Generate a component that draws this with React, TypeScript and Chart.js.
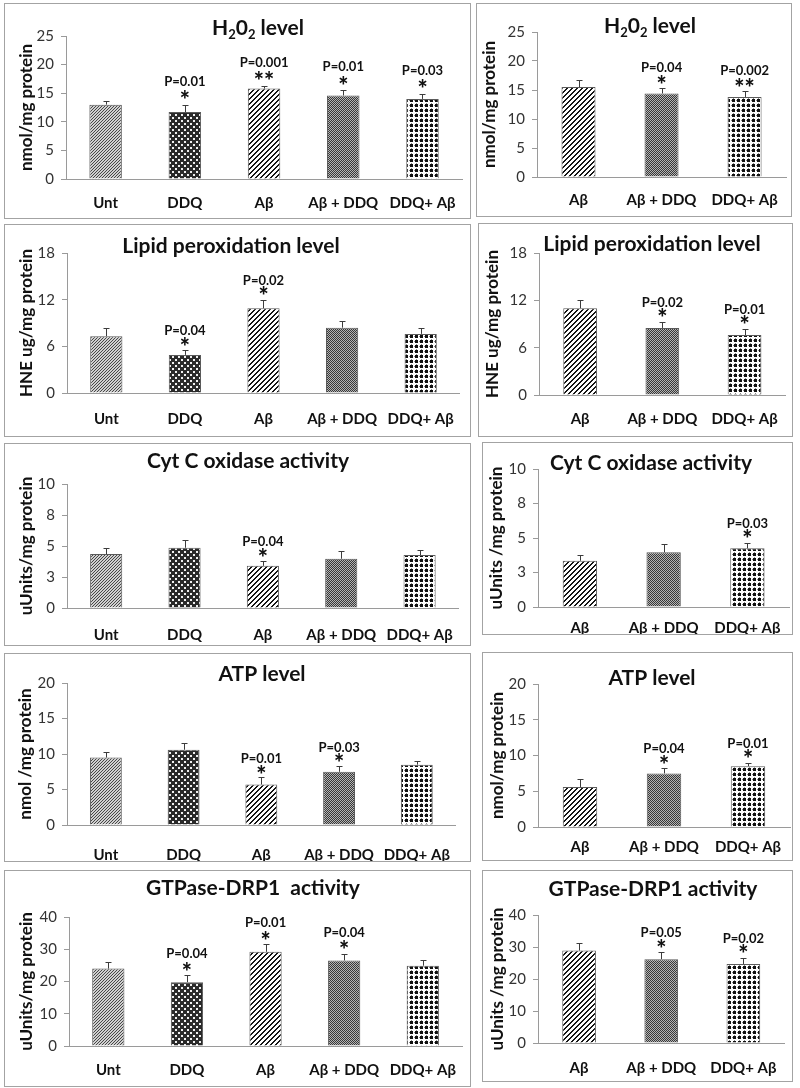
import React, { useEffect, useRef } from 'react';
import { Chart, registerables } from 'chart.js';

Chart.register(...registerables);

const FONT = 'Lato, "Open Sans", "Noto Sans", sans-serif';

// ---------- categories ----------
const LEFT_GROUPS = ['Unt', 'DDQ', 'Aβ', 'Aβ + DDQ', 'DDQ+ Aβ'];
const RIGHT_GROUPS = ['Aβ', 'Aβ + DDQ', 'DDQ+ Aβ'];
const LEFT_FILLS = ['unt', 'ddq', 'ab', 'abddq', 'ddqab'];
const RIGHT_FILLS = ['ab', 'abddq', 'ddqab'];

// ---------- H2O2 ----------
const h2o2Ticks = ['0', '5', '10', '15', '20', '25'];
const h2o2Max = 25;
const h2o2Step = 5;
const h2o2LeftValues = [13.0, 11.7, 15.8, 14.6, 14.0];
const h2o2LeftErrors = [0.6, 1.3, 0.5, 0.9, 0.9];
const h2o2LeftP = ['', 'P=0.01', 'P=0.001', 'P=0.01', 'P=0.03'];
const h2o2LeftStars = ['', '*', '**', '*', '*'];
const h2o2RightValues = [15.5, 14.4, 13.8];
const h2o2RightErrors = [1.3, 0.9, 1.0];
const h2o2RightP = ['', 'P=0.04', 'P=0.002'];
const h2o2RightStars = ['', '*', '**'];

// ---------- Lipid peroxidation ----------
const lipidTicks = ['0', '6', '12', '18'];
const lipidMax = 18;
const lipidStep = 6;
const lipidLeftValues = [7.3, 4.9, 10.9, 8.4, 7.6];
const lipidLeftErrors = [1.1, 0.6, 1.1, 0.8, 0.7];
const lipidLeftP = ['', 'P=0.04', 'P=0.02', '', ''];
const lipidLeftStars = ['', '*', '*', '', ''];
const lipidRightValues = [11.0, 8.5, 7.6];
const lipidRightErrors = [1.1, 0.8, 0.8];
const lipidRightP = ['', 'P=0.02', 'P=0.01'];
const lipidRightStars = ['', '*', '*'];

// ---------- Cyt C oxidase ----------
const cytTicks = ['0', '3', '5', '8', '10'];
const cytMax = 10;
const cytStep = 2.5;
const cytLeftValues = [4.35, 4.86, 3.4, 3.97, 4.27];
const cytLeftErrors = [0.5, 0.6, 0.38, 0.6, 0.38];
const cytLeftP = ['', '', 'P=0.04', '', ''];
const cytLeftStars = ['', '', '*', '', ''];
const cytRightValues = [3.35, 3.96, 4.25];
const cytRightErrors = [0.41, 0.6, 0.41];
const cytRightP = ['', '', 'P=0.03'];
const cytRightStars = ['', '', '*'];

// ---------- ATP ----------
const atpTicks = ['0', '5', '10', '15', '20'];
const atpMax = 20;
const atpStep = 5;
const atpLeftValues = [9.5, 10.6, 5.7, 7.5, 8.5];
const atpLeftErrors = [0.75, 1.0, 1.0, 0.85, 0.45];
const atpLeftP = ['', '', 'P=0.01', 'P=0.03', ''];
const atpLeftStars = ['', '', '*', '*', ''];
const atpRightValues = [5.6, 7.5, 8.5];
const atpRightErrors = [1.15, 0.75, 0.5];
const atpRightP = ['', 'P=0.04', 'P=0.01'];
const atpRightStars = ['', '*', '*'];

// ---------- GTPase-DRP1 ----------
const gtpTicks = ['0', '10', '20', '30', '40'];
const gtpMax = 40;
const gtpStep = 10;
const gtpLeftValues = [24.0, 19.8, 29.2, 26.5, 24.9];
const gtpLeftErrors = [2.2, 2.2, 2.3, 2.1, 1.8];
const gtpLeftP = ['', 'P=0.04', 'P=0.01', 'P=0.04', ''];
const gtpLeftStars = ['', '*', '*', '*', ''];
const gtpRightValues = [28.9, 26.2, 24.7];
const gtpRightErrors = [2.3, 2.2, 2.0];
const gtpRightP = ['', 'P=0.05', 'P=0.02'];
const gtpRightStars = ['', '*', '*'];

// ---------- panels (layout/styling) ----------
type PanelCfg = {
  title: string;
  yTitle: string;
  groups: string[];
  fills: string[];
  values: number[];
  errors: number[];
  pLabels: string[];
  stars: string[];
  ticks: string[];
  max: number;
  step: number;
  box: { x: number; y: number; w: number; h: number };
  plot: { x0: number; x1: number; top: number; zero: number };
  titleAt: { x: number; y: number };
  yTitleX: number;
  xLabelOffset: number;
  starOff: number;
  pOff: number;
};

const PANELS: PanelCfg[] = [
  {
    title: 'H₂0₂ level', yTitle: 'nmol/mg protein', groups: LEFT_GROUPS, fills: LEFT_FILLS,
    values: h2o2LeftValues, errors: h2o2LeftErrors, pLabels: h2o2LeftP, stars: h2o2LeftStars,
    ticks: h2o2Ticks, max: h2o2Max, step: h2o2Step,
    box: { x: 4, y: 3, w: 467, h: 216 }, plot: { x0: 66, x1: 467, top: 36, zero: 179 },
    titleAt: { x: 258, y: 27 }, yTitleX: 27, xLabelOffset: 24, starOff: 10, pOff: 24,
  },
  {
    title: 'H₂0₂ level', yTitle: 'nmol/mg protein', groups: RIGHT_GROUPS, fills: RIGHT_FILLS,
    values: h2o2RightValues, errors: h2o2RightErrors, pLabels: h2o2RightP, stars: h2o2RightStars,
    ticks: h2o2Ticks, max: h2o2Max, step: h2o2Step,
    box: { x: 476, y: 3, w: 316, h: 214 }, plot: { x0: 537, x1: 790, top: 32, zero: 177 },
    titleAt: { x: 650, y: 25 }, yTitleX: 490, xLabelOffset: 23, starOff: 9, pOff: 21,
  },
  {
    title: 'Lipid peroxidation level', yTitle: 'HNE ug/mg protein', groups: LEFT_GROUPS, fills: LEFT_FILLS,
    values: lipidLeftValues, errors: lipidLeftErrors, pLabels: lipidLeftP, stars: lipidLeftStars,
    ticks: lipidTicks, max: lipidMax, step: lipidStep,
    box: { x: 4, y: 224, w: 467, h: 213 }, plot: { x0: 67, x1: 469, top: 253, zero: 393 },
    titleAt: { x: 231, y: 245 }, yTitleX: 27, xLabelOffset: 26, starOff: 9, pOff: 20,
  },
  {
    title: 'Lipid peroxidation level', yTitle: 'HNE ug/mg protein', groups: RIGHT_GROUPS, fills: RIGHT_FILLS,
    values: lipidRightValues, errors: lipidRightErrors, pLabels: lipidRightP, stars: lipidRightStars,
    ticks: lipidTicks, max: lipidMax, step: lipidStep,
    box: { x: 478, y: 223, w: 315, h: 214 }, plot: { x0: 539, x1: 791, top: 253, zero: 395 },
    titleAt: { x: 652, y: 243 }, yTitleX: 493, xLabelOffset: 24, starOff: 9, pOff: 20,
  },
  {
    title: 'Cyt C oxidase activity', yTitle: 'uUnits/mg protein', groups: LEFT_GROUPS, fills: LEFT_FILLS,
    values: cytLeftValues, errors: cytLeftErrors, pLabels: cytLeftP, stars: cytLeftStars,
    ticks: cytTicks, max: cytMax, step: cytStep,
    box: { x: 4, y: 443, w: 467, h: 203 }, plot: { x0: 67, x1: 468, top: 484, zero: 608 },
    titleAt: { x: 248, y: 460 }, yTitleX: 27, xLabelOffset: 27, starOff: 9, pOff: 20,
  },
  {
    title: 'Cyt C oxidase activity', yTitle: 'uUnits /mg protein', groups: RIGHT_GROUPS, fills: RIGHT_FILLS,
    values: cytRightValues, errors: cytRightErrors, pLabels: cytRightP, stars: cytRightStars,
    ticks: cytTicks, max: cytMax, step: cytStep,
    box: { x: 482, y: 442, w: 311, h: 193 }, plot: { x0: 538, x1: 790, top: 469, zero: 607 },
    titleAt: { x: 651, y: 462 }, yTitleX: 497, xLabelOffset: 21, starOff: 9, pOff: 20,
  },
  {
    title: 'ATP level', yTitle: 'nmol /mg protein', groups: LEFT_GROUPS, fills: LEFT_FILLS,
    values: atpLeftValues, errors: atpLeftErrors, pLabels: atpLeftP, stars: atpLeftStars,
    ticks: atpTicks, max: atpMax, step: atpStep,
    box: { x: 4, y: 653, w: 467, h: 209 }, plot: { x0: 67, x1: 470, top: 683, zero: 825 },
    titleAt: { x: 262, y: 673 }, yTitleX: 26, xLabelOffset: 30, starOff: 8, pOff: 19,
  },
  {
    title: 'ATP level', yTitle: 'nmol/mg protein', groups: RIGHT_GROUPS, fills: RIGHT_FILLS,
    values: atpRightValues, errors: atpRightErrors, pLabels: atpRightP, stars: atpRightStars,
    ticks: atpTicks, max: atpMax, step: atpStep,
    box: { x: 482, y: 652, w: 311, h: 209 }, plot: { x0: 538, x1: 790, top: 684, zero: 827 },
    titleAt: { x: 652, y: 677 }, yTitleX: 498, xLabelOffset: 20, starOff: 9, pOff: 20,
  },
  {
    title: 'GTPase-DRP1  activity', yTitle: 'uUnits/mg protein', groups: LEFT_GROUPS, fills: LEFT_FILLS,
    values: gtpLeftValues, errors: gtpLeftErrors, pLabels: gtpLeftP, stars: gtpLeftStars,
    ticks: gtpTicks, max: gtpMax, step: gtpStep,
    box: { x: 4, y: 870, w: 467, h: 217 }, plot: { x0: 69, x1: 470, top: 917, zero: 1046 },
    titleAt: { x: 253, y: 887 }, yTitleX: 27, xLabelOffset: 24, starOff: 9, pOff: 22,
  },
  {
    title: 'GTPase-DRP1 activity', yTitle: 'uUnits /mg protein', groups: RIGHT_GROUPS, fills: RIGHT_FILLS,
    values: gtpRightValues, errors: gtpRightErrors, pLabels: gtpRightP, stars: gtpRightStars,
    ticks: gtpTicks, max: gtpMax, step: gtpStep,
    box: { x: 482, y: 870, w: 311, h: 212 }, plot: { x0: 538, x1: 790, top: 915, zero: 1043 },
    titleAt: { x: 653, y: 888 }, yTitleX: 498, xLabelOffset: 25, starOff: 9, pOff: 20,
  },
];

// ---------- fill patterns ----------
function makePattern(kind: string): CanvasPattern | string {
  const c = document.createElement('canvas');
  const g = c.getContext('2d');
  if (!g) return '#888';
  const px = (x: number, y: number, col: string) => {
    g.fillStyle = col;
    g.fillRect(x, y, 1, 1);
  };
  if (kind === 'unt') {
    c.width = 3; c.height = 3;
    g.fillStyle = '#d0d0d0'; g.fillRect(0, 0, 3, 3);
    for (let i = 0; i < 3; i++) px(i, 2 - i, '#474747');
  } else if (kind === 'ddq') {
    c.width = 6; c.height = 6;
    g.fillStyle = '#2a2a2a'; g.fillRect(0, 0, 6, 6);
    g.fillStyle = '#f0f0f0';
    g.fillRect(0, 0, 2, 2);
    g.fillRect(3, 3, 2, 2);
  } else if (kind === 'ab') {
    c.width = 5; c.height = 5;
    g.fillStyle = '#ffffff'; g.fillRect(0, 0, 5, 5);
    for (let y = 0; y < 5; y++)
      for (let x = 0; x < 5; x++) if ((x + y) % 5 < 2) px(x, y, '#151515');
  } else if (kind === 'abddq') {
    c.width = 2; c.height = 2;
    g.fillStyle = '#b4b4b4'; g.fillRect(0, 0, 2, 2);
    px(0, 0, '#383838');
    px(1, 1, '#383838');
  } else {
    c.width = 5; c.height = 5;
    g.fillStyle = '#ffffff'; g.fillRect(0, 0, 5, 5);
    g.fillStyle = '#111111';
    g.fillRect(1, 1, 3, 3);
    px(2, 0, '#8a8a8a'); px(0, 2, '#8a8a8a');
  }
  const ctx = document.createElement('canvas').getContext('2d');
  const p = ctx ? ctx.createPattern(c, 'repeat') : null;
  return p || '#888';
}

// ---------- text helpers ----------
const SUBS = '₀₁₂₃₄₅₆₇₈₉';

function drawRichTitle(ctx: CanvasRenderingContext2D, text: string, cx: number, cy: number, size: number) {
  const segs: { s: string; sub: boolean }[] = [];
  for (const ch of Array.from(text)) {
    const i = SUBS.indexOf(ch);
    const sub = i >= 0;
    const s = sub ? String(i) : ch;
    const last = segs[segs.length - 1];
    if (last && last.sub === sub) last.s += s;
    else segs.push({ s, sub });
  }
  const mainFont = `bold ${size}px ${FONT}`;
  const subFont = `bold ${Math.round(size * 0.62)}px ${FONT}`;
  let total = 0;
  const widths = segs.map((sg) => {
    ctx.font = sg.sub ? subFont : mainFont;
    const w = ctx.measureText(sg.s).width;
    total += w;
    return w;
  });
  const base = cy + size * 0.36;
  let x = cx - total / 2;
  ctx.textAlign = 'left';
  ctx.textBaseline = 'alphabetic';
  ctx.fillStyle = '#111';
  segs.forEach((sg, k) => {
    ctx.font = sg.sub ? subFont : mainFont;
    ctx.fillText(sg.s, x, sg.sub ? base + size * 0.22 : base);
    x += widths[k];
  });
}

function drawCentered(ctx: CanvasRenderingContext2D, text: string, cx: number, cy: number, font: string) {
  ctx.font = font;
  ctx.textAlign = 'center';
  ctx.textBaseline = 'alphabetic';
  const m = ctx.measureText(text);
  const asc = m.actualBoundingBoxAscent;
  const desc = m.actualBoundingBoxDescent;
  ctx.fillText(text, cx, cy + (asc - desc) / 2);
}

function makeDecor(cfg: PanelCfg) {
  return {
    id: 'panelDecor',
    beforeDraw(chart: any) {
      const ctx = chart.ctx as CanvasRenderingContext2D;
      ctx.save();
      ctx.fillStyle = '#ffffff';
      ctx.fillRect(0, 0, chart.width, chart.height);
      ctx.restore();
    },
    afterDatasetsDraw(chart: any) {
      const ctx = chart.ctx as CanvasRenderingContext2D;
      const meta = chart.getDatasetMeta(0);
      const ys = chart.scales.y;
      ctx.save();
      meta.data.forEach((bar: any, i: number) => {
        const x = Math.round(bar.x) + 0.5;
        const top = ys.getPixelForValue(cfg.values[i] + cfg.errors[i]);
        const yBar = ys.getPixelForValue(cfg.values[i]);
        ctx.strokeStyle = '#3c3c3c';
        ctx.lineWidth = 1;
        ctx.beginPath();
        ctx.moveTo(x, yBar);
        ctx.lineTo(x, Math.round(top) + 0.5);
        ctx.moveTo(x - 3, Math.round(top) + 0.5);
        ctx.lineTo(x + 3, Math.round(top) + 0.5);
        ctx.stroke();
        ctx.fillStyle = '#111';
        if (cfg.stars[i]) drawCentered(ctx, cfg.stars[i], bar.x, top - cfg.starOff, `900 24px ${FONT}`);
        if (cfg.pLabels[i]) drawCentered(ctx, cfg.pLabels[i], bar.x, top - cfg.pOff, `bold 13px ${FONT}`);
      });
      ctx.restore();
    },
    afterDraw(chart: any) {
      const ctx = chart.ctx as CanvasRenderingContext2D;
      const ca = chart.chartArea;
      ctx.save();
      drawRichTitle(ctx, cfg.title, cfg.titleAt.x - cfg.box.x, cfg.titleAt.y - cfg.box.y, 21);
      ctx.translate(cfg.yTitleX - cfg.box.x, (ca.top + ca.bottom) / 2);
      ctx.rotate(-Math.PI / 2);
      ctx.fillStyle = '#111';
      ctx.font = `bold 17px ${FONT}`;
      ctx.textAlign = 'center';
      ctx.textBaseline = 'middle';
      ctx.fillText(cfg.yTitle, 0, 0);
      ctx.restore();
      ctx.save();
      ctx.strokeStyle = '#a3a3a3';
      ctx.lineWidth = 1;
      ctx.strokeRect(0.5, 0.5, chart.width - 1, chart.height - 1);
      ctx.restore();
    },
  };
}

function Panel({ cfg }: { cfg: PanelCfg }) {
  const ref = useRef<HTMLCanvasElement>(null);
  useEffect(() => {
    const canvas = ref.current;
    if (!canvas) return;
    const { box, plot } = cfg;
    const yWidth = plot.x0 - box.x;
    const xHeight = box.y + box.h - plot.zero;
    const chart = new Chart(canvas, {
      type: 'bar',
      data: {
        labels: cfg.groups,
        datasets: [
          {
            data: cfg.values,
            backgroundColor: cfg.fills.map((f) => makePattern(f)) as any,
            borderColor: '#5a5a5a',
            borderWidth: 1,
            barPercentage: 0.41,
            categoryPercentage: 1,
          },
        ],
      },
      options: {
        animation: false,
        responsive: false,
        maintainAspectRatio: false,
        layout: {
          padding: { left: 0, top: plot.top - box.y, right: box.x + box.w - plot.x1, bottom: 0 },
        },
        plugins: { legend: { display: false }, tooltip: { enabled: false }, title: { display: false } },
        scales: {
          x: {
            grid: { display: false, drawTicks: false },
            border: { display: true, color: '#9a9a9a', width: 1 },
            ticks: {
              autoSkip: false,
              maxRotation: 0,
              minRotation: 0,
              padding: cfg.xLabelOffset - 9,
              color: '#111',
              font: { family: FONT, weight: 'bold', size: 15 },
            },
            afterFit: (s: any) => {
              s.height = xHeight;
            },
          },
          y: {
            min: 0,
            max: cfg.max,
            grid: { drawOnChartArea: false, drawTicks: true, tickLength: 5, color: '#9a9a9a' },
            border: { display: true, color: '#9a9a9a', width: 1 },
            ticks: {
              stepSize: cfg.step,
              padding: 7,
              color: '#333',
              font: { family: FONT, size: 15 },
              callback: (_v: any, i: number) => cfg.ticks[i],
            },
            afterFit: (s: any) => {
              s.width = yWidth;
            },
          },
        },
      } as any,
      plugins: [makeDecor(cfg)],
    });
    return () => chart.destroy();
  }, [cfg]);
  return (
    <canvas
      ref={ref}
      width={cfg.box.w}
      height={cfg.box.h}
      style={{ position: 'absolute', left: cfg.box.x, top: cfg.box.y, width: cfg.box.w, height: cfg.box.h }}
    />
  );
}

export default function App() {
  return (
    <div style={{ position: 'absolute', left: 0, top: 0, width: 800, height: 1088, background: '#ffffff', overflow: 'hidden' }}>
      {PANELS.map((p, i) => (
        <Panel key={i} cfg={p} />
      ))}
    </div>
  );
}
